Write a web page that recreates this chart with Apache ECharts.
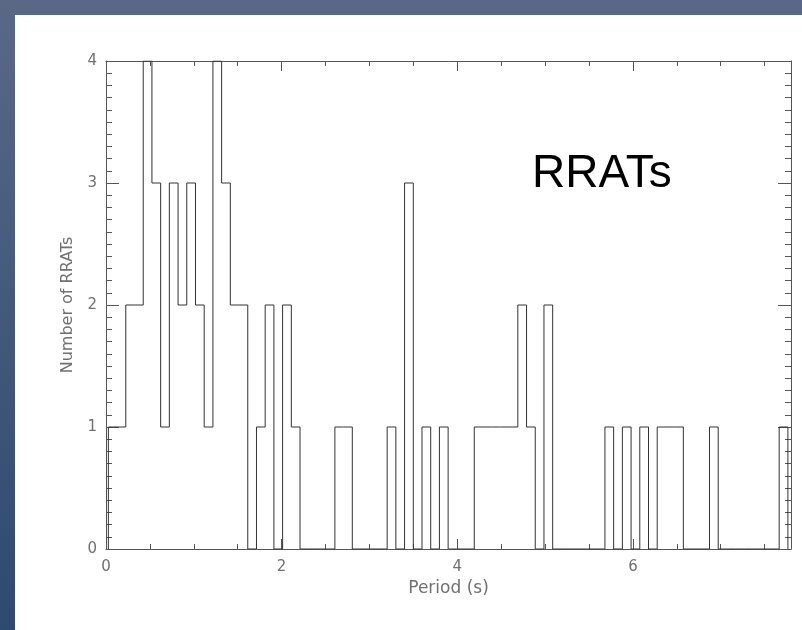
<!DOCTYPE html>
<html>
<head>
<meta charset="utf-8">
<script src="https://cdn.jsdelivr.net/npm/echarts@6/dist/echarts.min.js"></script>
<style>
  html, body { margin: 0; padding: 0; }
  body {
    width: 802px; height: 630px; overflow: hidden; position: relative;
    background: linear-gradient(to bottom, #5a6886, #2e4a6e);
  }
  #chart {
    position: absolute; left: 15px; top: 15px;
    width: 787px; height: 615px; background: #fff;
  }
</style>
</head>
<body>
<div id="chart"></div>
<script>
// histogram of RRAT periods (s), equal-width bins
const binStart = 0.027;
const binWidth = 0.0992;
const binCounts = [
    1, 1, 2, 2, 4, 3, 1, 3, 2, 3,
    2, 1, 4, 3, 2, 2, 0, 1, 2, 0,
    2, 1, 0, 0, 0, 0, 1, 1, 0, 0,
    0, 0, 1, 0, 3, 0, 1, 0, 1, 0,
    0, 0, 1, 1, 1, 1, 1, 2, 1, 0,
    2, 0, 0, 0, 0, 0, 0, 1, 0, 1,
    0, 1, 0, 1, 1, 1, 0, 0, 0, 1,
    0, 0, 0, 0, 0, 0, 0, 1
];
const xTicks = [0, 2, 4, 6];
const yTicks = [0, 1, 2, 3, 4];
const xMax = 7.8;
const chartLabel = "RRATs";

// step outline: left edge of each bin with its count, closed down to zero at both ends
const steps = [[binStart, 0]];
binCounts.forEach((c, i) => steps.push([binStart + i * binWidth, c]));
const lastEdge = binStart + binCounts.length * binWidth;
steps.push([lastEdge, binCounts[binCounts.length - 1]]);
steps.push([lastEdge, 0]);

const axisColor = "#555";
const textColor = "#707070";
const labelFont = "'DejaVu Sans', sans-serif";

function xAxisDef(pos, withLabels) {
    return {
        type: "value",
        position: pos,
        min: 0,
        max: xMax,
        interval: 2,
        axisLine: { show: true, onZero: false, lineStyle: { color: axisColor, width: 1 } },
        axisTick: { show: true, inside: true, length: 10, lineStyle: { color: axisColor } },
        minorTick: { show: true, splitNumber: 4, length: 5, lineStyle: { color: axisColor } },
        splitLine: { show: false },
        minorSplitLine: { show: false },
        axisLabel: {
            show: withLabels, color: textColor, fontSize: 15, fontFamily: labelFont, margin: 11,
            showMaxLabel: false,
            formatter: (v) => (xTicks.includes(v) ? String(v) : "")
        },
        name: withLabels ? "Period (s)" : "",
        nameLocation: "middle",
        nameGap: 20,
        nameTextStyle: { color: textColor, fontSize: 17, fontFamily: labelFont }
    };
}

function yAxisDef(pos, withLabels) {
    return {
        type: "value",
        position: pos,
        min: 0,
        max: 4,
        interval: 1,
        axisLine: { show: true, onZero: false, lineStyle: { color: axisColor, width: 1 } },
        axisTick: { show: true, inside: true, length: 13, lineStyle: { color: axisColor } },
        minorTick: { show: true, splitNumber: 10, length: 6, lineStyle: { color: axisColor } },
        splitLine: { show: false },
        minorSplitLine: { show: false },
        axisLabel: {
            show: withLabels, color: textColor, fontSize: 15, fontFamily: labelFont, margin: 9,
            formatter: (v) => (yTicks.includes(v) ? String(v) : "")
        },
        name: withLabels ? "Number of RRATs" : "",
        nameLocation: "middle",
        nameGap: 30,
        nameRotate: 90,
        nameTextStyle: { color: textColor, fontSize: 16, fontFamily: labelFont }
    };
}

const chart = echarts.init(document.getElementById("chart"));
chart.setOption({
    animation: false,
    backgroundColor: "#fff",
    grid: { left: 91, top: 46, right: 11, bottom: 81, containLabel: false },
    xAxis: [xAxisDef("bottom", true), xAxisDef("top", false)],
    yAxis: [yAxisDef("left", true), yAxisDef("right", false)],
    graphic: [{
        type: "text",
        left: 517,
        top: 136,
        style: {
            text: chartLabel,
            fill: "#000",
            font: "46px 'Liberation Sans', Arial, sans-serif"
        }
    }],
    series: [{
        type: "line",
        xAxisIndex: 0,
        yAxisIndex: 0,
        step: "end",
        showSymbol: false,
        data: steps,
        lineStyle: { color: "#333", width: 1 }
    }]
});
</script>
</body>
</html>
